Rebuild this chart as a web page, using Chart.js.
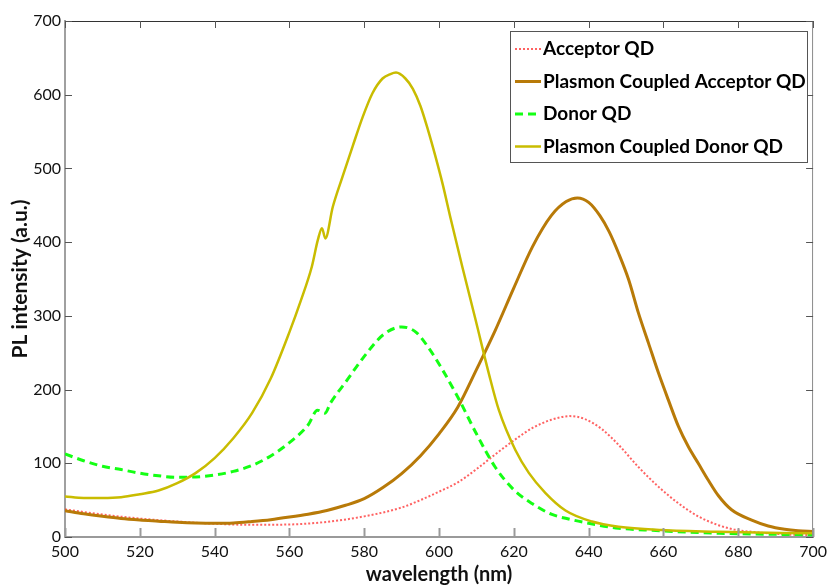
<!DOCTYPE html>
<html>
<head>
<meta charset="utf-8">
<script src="https://cdn.jsdelivr.net/npm/chart.js@4/dist/chart.umd.min.js"></script>
<style>
  html, body { margin: 0; padding: 0; background: #ffffff; }
  #wrap { width: 832px; height: 588px; }
</style>
</head>
<body>
<div id="wrap"><canvas id="plot" width="832" height="588"></canvas></div>
<script>
// Photoluminescence spectra (wavelength in nm, intensity in a.u.)
const acceptorWl = [500, 510, 520, 530, 540, 550, 560, 570, 580, 590, 595, 600, 605, 610, 615, 620, 625, 630, 635, 639, 643.6, 648, 653.3, 658.7, 664, 669.3, 674.7, 679, 683.6, 692.4, 700];
const acceptorPL = [37.5, 30.5, 25, 21, 18, 16.5, 17, 20.5, 28, 40, 50, 61.5, 74, 92, 112, 131, 148, 159, 164, 160, 146, 125, 95, 68, 45.7, 28, 16, 10, 7, 3.5, 2.5];

const pcAcceptorWl = [500, 505, 510, 515, 520, 525, 530, 535, 540, 545, 550, 555, 560, 565, 570, 575, 580, 585, 590, 595, 600, 605, 610, 615, 620, 625, 630, 634, 637, 640, 643, 645.5, 648, 650.7, 653.3, 656, 658.7, 661.3, 664, 666.7, 669.3, 672, 674.7, 678.2, 683.6, 688, 692.4, 696, 700];
const pcAcceptorPL = [35.7, 31.5, 28, 25, 23, 21.5, 20, 19, 18.6, 19, 21, 23.5, 27, 31, 36, 43, 52, 67, 86, 110, 140, 176, 227, 280, 338, 394, 436, 455, 460, 454, 436, 414, 385, 349, 304, 263, 222, 186, 150, 122, 100, 77, 56, 37, 23, 15, 10.5, 8.5, 7.5];

const donorWl = [500, 505, 510, 515, 520, 525, 530, 535, 540, 545, 550, 555, 560, 565, 567.5, 569.5, 571, 575, 580, 585, 590, 593.8, 597.3, 600.9, 605, 610, 615, 620, 625, 630, 635, 641, 648, 657, 675, 700];
const donorPL = [112.6, 103.5, 96, 91.5, 86.5, 83, 81, 81.5, 84, 89, 97, 110, 128, 152, 172, 168, 182, 210, 245, 274, 285, 278, 256, 227, 190, 140, 95, 64, 45, 31, 24, 17.6, 12, 9, 5, 3];

const pcDonorWl = [500, 505, 510, 515, 520, 525, 530, 535, 540, 545, 550, 555, 560, 563, 566, 567.6, 568.7, 569.6, 571.6, 574.2, 576.9, 579.6, 582.2, 584.9, 587, 588.5, 591, 593, 595, 597, 599, 601, 603.1, 606.2, 609.8, 613.3, 616, 620.4, 624, 628.4, 633.8, 640.9, 648, 659.5, 674.7, 700];
const pcDonorPL = [55, 53, 53, 54, 58, 63, 73, 87, 107, 134, 168, 215, 278, 320, 367, 403, 419, 405, 448, 489, 530, 570, 602, 622, 628, 630, 622, 608, 585, 553, 517, 478, 432, 367, 294, 222, 172, 118, 87, 60, 36, 21, 14, 9.5, 7, 5];

const seriesNames = ['Acceptor QD', 'Plasmon Coupled Acceptor QD', 'Donor QD', 'Plasmon Coupled Donor QD'];
const xTicks = [500, 520, 540, 560, 580, 600, 620, 640, 660, 680, 700];
const yTicks = [0, 100, 200, 300, 400, 500, 600, 700];

const toPoints = (wl, pl) => wl.map((w, i) => ({ x: w, y: pl[i] }));

const FONT = 'Lato, "Noto Sans", sans-serif';

// Inside tick marks on all four sides plus the box frame
const frameTicks = {
  id: 'frameTicks',
  afterDatasetsDraw(chart) {
    const { ctx, chartArea: a, scales } = chart;
    const xs = scales.x, ys = scales.y;
    ctx.save();
    ctx.lineCap = 'butt';
    ctx.strokeStyle = '#333333';
    ctx.lineWidth = 1;
    ctx.beginPath();
    ctx.moveTo(a.left, a.top + 0.5); ctx.lineTo(a.right, a.top + 0.5);
    ctx.stroke();
    ctx.strokeStyle = '#8a8a8a';
    ctx.beginPath();
    ctx.moveTo(a.right - 0.5, a.top); ctx.lineTo(a.right - 0.5, a.bottom);
    ctx.stroke();
    xTicks.forEach(v => {
      const px = Math.round(xs.getPixelForValue(v)) + 0.5;
      ctx.strokeStyle = '#9a9a9a'; ctx.lineWidth = 2;
      ctx.beginPath(); ctx.moveTo(px, a.bottom); ctx.lineTo(px, a.bottom - 9); ctx.stroke();
      ctx.strokeStyle = '#555555'; ctx.lineWidth = 1;
      ctx.beginPath(); ctx.moveTo(px, a.top); ctx.lineTo(px, a.top + 7); ctx.stroke();
    });
    yTicks.forEach(v => {
      const py = Math.round(ys.getPixelForValue(v)) + 0.5;
      ctx.strokeStyle = '#555555'; ctx.lineWidth = 1;
      ctx.beginPath(); ctx.moveTo(a.left, py); ctx.lineTo(a.left + 7, py); ctx.stroke();
      ctx.beginPath(); ctx.moveTo(a.right, py); ctx.lineTo(a.right - 7, py); ctx.stroke();
    });
    ctx.restore();
  }
};

// Boxed legend in the upper right of the plot area
const boxLegend = {
  id: 'boxLegend',
  afterDraw(chart) {
    const { ctx } = chart;
    const bx = 510.5, by = 31.5, bw = 297, bh = 131;
    ctx.save();
    ctx.fillStyle = '#ffffff';
    ctx.fillRect(bx, by, bw, bh);
    ctx.strokeStyle = '#555555';
    ctx.lineWidth = 1;
    ctx.strokeRect(bx, by, bw, bh);
    chart.data.datasets.forEach((ds, i) => {
      const ry = 49 + i * 32.5;
      ctx.strokeStyle = ds.borderColor;
      ctx.lineWidth = ds.borderWidth;
      ctx.setLineDash(ds.borderDash || []);
      ctx.beginPath();
      ctx.moveTo(515, ry); ctx.lineTo(541, ry);
      ctx.stroke();
      ctx.setLineDash([]);
      ctx.fillStyle = '#000000';
      ctx.font = 'bold 19px ' + FONT;
      ctx.textBaseline = 'middle';
      ctx.textAlign = 'left';
      ctx.fillText(ds.label, 543, ry);
    });
    ctx.restore();
  }
};

new Chart(document.getElementById('plot'), {
  type: 'line',
  data: {
    datasets: [
      {
        label: seriesNames[0],
        data: toPoints(acceptorWl, acceptorPL),
        borderColor: 'rgba(255,70,70,0.85)',
        borderWidth: 2,
        borderDash: [2, 2],
        order: 3
      },
      {
        label: seriesNames[1],
        data: toPoints(pcAcceptorWl, pcAcceptorPL),
        borderColor: '#b87a08',
        borderWidth: 3,
        order: 2
      },
      {
        label: seriesNames[2],
        data: toPoints(donorWl, donorPL),
        borderColor: '#14ff14',
        borderWidth: 3,
        borderDash: [8, 5],
        order: 1
      },
      {
        label: seriesNames[3],
        data: toPoints(pcDonorWl, pcDonorPL),
        borderColor: '#c9bc00',
        borderWidth: 2.5,
        order: 0
      }
    ]
  },
  options: {
    responsive: false,
    animation: false,
    devicePixelRatio: 1,
    layout: { padding: { top: 21, right: 17, left: 0, bottom: 0 } },
    elements: {
      point: { radius: 0 },
      line: { cubicInterpolationMode: 'monotone', fill: false }
    },
    plugins: {
      legend: { display: false },
      tooltip: { enabled: false }
    },
    scales: {
      x: {
        type: 'linear',
        min: 500,
        max: 700,
        afterFit(s) { s.height = 51; },
        afterBuildTicks(s) { s.ticks = xTicks.map(v => ({ value: v })); },
        grid: { display: false, drawTicks: false },
        border: { display: true, color: '#9a9a9a', width: 2 },
        ticks: { padding: 5, color: '#111111', font: { family: FONT, size: 16 } },
        title: {
          display: true,
          text: 'wavelength (nm)',
          color: '#111111',
          font: { family: FONT, size: 20, weight: 'bold' },
          padding: { top: 0, bottom: 1 }
        }
      },
      y: {
        type: 'linear',
        min: 0,
        max: 700,
        afterFit(s) { s.width = 65; },
        afterBuildTicks(s) { s.ticks = yTicks.map(v => ({ value: v })); },
        grid: { display: false, drawTicks: false },
        border: { display: true, color: '#a0a0a0', width: 2 },
        ticks: { padding: 4, color: '#111111', font: { family: FONT, size: 16 } },
        title: {
          display: true,
          text: 'PL intensity (a.u.)',
          color: '#111111',
          font: { family: FONT, size: 21, weight: 'bold' },
          padding: { top: 8, bottom: 0 }
        }
      }
    }
  },
  plugins: [frameTicks, boxLegend]
});
</script>
</body>
</html>
